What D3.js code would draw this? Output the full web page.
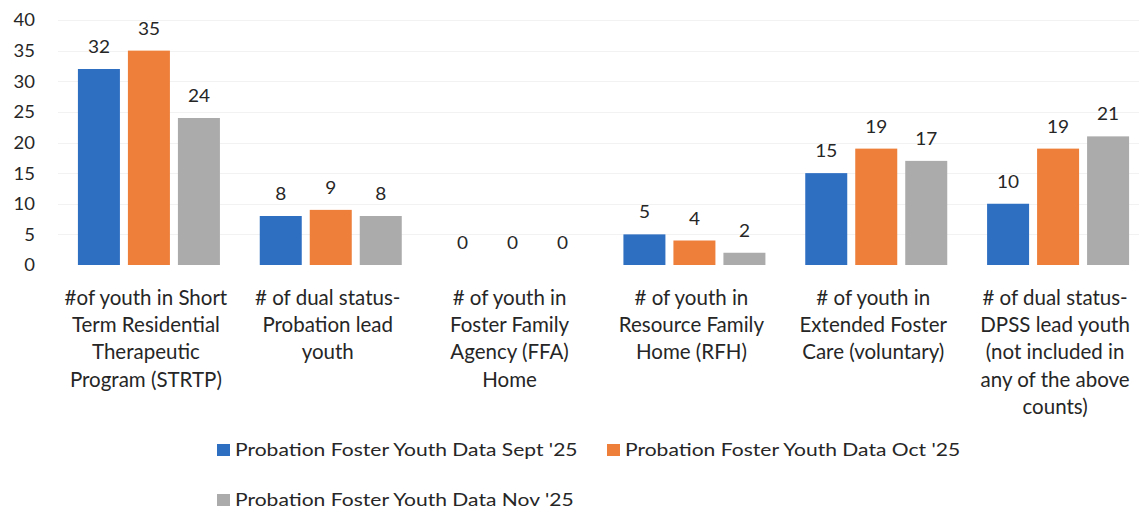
<!DOCTYPE html>
<html>
<head>
<meta charset="utf-8">
<script src="https://cdn.jsdelivr.net/npm/d3@7"></script>
<style>
  html, body { margin: 0; padding: 0; background: #fff; }
  svg { display: block; }
  text { font-family: Lato, "Open Sans", sans-serif; fill: #262626; }
</style>
</head>
<body>
<svg id="chart" width="1139" height="515"></svg>
<script>
// Category labels, one array of lines per category
const categories = [
  ["#of youth in Short", "Term Residential", "Therapeutic", "Program (STRTP)"],
  ["# of dual status-", "Probation lead", "youth"],
  ["# of youth in", "Foster Family", "Agency (FFA)", "Home"],
  ["# of youth in", "Resource Family", "Home (RFH)"],
  ["# of youth in", "Extended Foster", "Care (voluntary)"],
  ["# of dual status-", "DPSS lead youth", "(not included in", "any of the above", "counts)"]
];
const seriesNames = [
  "Probation Foster Youth Data Sept '25",
  "Probation Foster Youth Data Oct '25",
  "Probation Foster Youth Data Nov '25"
];
const septValues = [32, 8, 0, 5, 15, 10];
const octValues  = [35, 9, 0, 4, 19, 19];
const novValues  = [24, 8, 0, 2, 17, 21];
const seriesColors = ["#2f6fc2", "#ee7f3a", "#ababab"];
const yTicks = [0, 5, 10, 15, 20, 25, 30, 35, 40];

const series = [septValues, octValues, novValues];
const svg = d3.select("#chart");

const y = d3.scaleLinear().domain([0, 40]).range([265, 20]);
const x0 = d3.scaleBand().domain(d3.range(categories.length)).range([58, 1149]).padding(0);
const x1 = d3.scaleBand().domain(d3.range(series.length)).range([0, 142]).paddingInner(0.16).paddingOuter(0);
const groupOffset = (x0.bandwidth() - 142) / 2;

// faint horizontal gridlines
svg.append("g").selectAll("line").data(yTicks.slice(1)).join("line")
  .attr("x1", 58).attr("x2", 1139)
  .attr("y1", d => Math.round(y(d)) + 0.5).attr("y2", d => Math.round(y(d)) + 0.5)
  .attr("stroke", "#f2f2f2").attr("stroke-width", 1);

// y axis labels (no axis line), slightly widened glyphs
const yAxis = d3.axisLeft(y).tickValues(yTicks).tickSize(0).tickPadding(0);
const yg = svg.append("g").attr("transform", "translate(35,0)").call(yAxis);
yg.select(".domain").remove();
yg.selectAll(".tick text")
  .attr("font-size", 16.5).attr("fill", "#262626").attr("dy", "0.36em")
  .attr("transform", "scale(1.12,1)")
  .style("font-family", "Lato, 'Open Sans', sans-serif");

// grouped bars with value labels
const groups = svg.append("g").selectAll("g").data(categories).join("g")
  .attr("transform", (d, i) => `translate(${x0(i) + groupOffset},0)`);

groups.each(function(_, ci) {
  const g = d3.select(this);
  series.forEach((vals, si) => {
    const v = vals[ci];
    if (v > 0) {
      g.append("rect")
        .attr("x", x1(si)).attr("width", x1.bandwidth())
        .attr("y", y(v)).attr("height", y(0) - y(v))
        .attr("fill", seriesColors[si]);
    }
    g.append("g")
      .attr("transform", `translate(${x1(si) + x1.bandwidth() / 2},${y(v) - 16})`)
      .append("text")
      .attr("text-anchor", "middle")
      .attr("font-size", 17)
      .attr("transform", "scale(1.12,1)")
      .text(v);
  });
});

// category labels (multi-line, centered)
const catLabels = svg.append("g").selectAll("text").data(categories).join("text")
  .attr("x", (d, i) => x0(i) + x0.bandwidth() / 2 - 3)
  .attr("y", 305)
  .attr("text-anchor", "middle")
  .attr("font-size", 20.5);
catLabels.each(function(lines) {
  const t = d3.select(this);
  lines.forEach((ln, k) => {
    t.append("tspan").attr("x", t.attr("x")).attr("dy", k === 0 ? 0 : 27.2).text(ln);
  });
});

// legend
const legendPos = [[217, 456], [607, 456], [217, 506]];
const legend = svg.append("g").selectAll("g").data(seriesNames).join("g")
  .attr("transform", (d, i) => `translate(${legendPos[i][0]},${legendPos[i][1]})`);
legend.append("rect").attr("x", 0).attr("y", -12).attr("width", 13).attr("height", 12)
  .attr("fill", (d, i) => seriesColors[i]);
legend.append("text").attr("x", 0).attr("y", 0).attr("font-size", 18)
  .attr("transform", "translate(18,0) scale(1.17,1)")
  .text(d => d);
</script>
</body>
</html>
